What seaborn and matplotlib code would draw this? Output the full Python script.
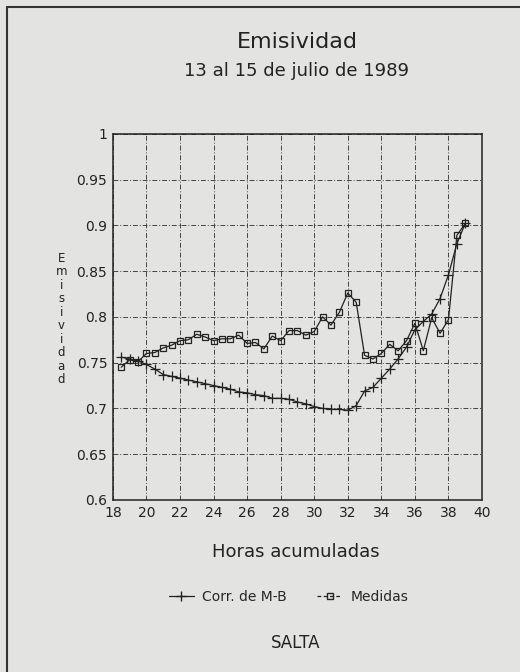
import numpy as np
import pandas as pd
import seaborn as sns
import matplotlib
matplotlib.use("Agg")
import matplotlib.pyplot as plt
from matplotlib.lines import Line2D

# hours (accumulated) and emissivity values
horas = [18.5, 19.0, 19.5, 20.0, 20.5, 21.0, 21.5, 22.0, 22.5, 23.0, 23.5,
         24.0, 24.5, 25.0, 25.5, 26.0, 26.5, 27.0, 27.5, 28.0, 28.5, 29.0,
         29.5, 30.0, 30.5, 31.0, 31.5, 32.0, 32.5, 33.0, 33.5, 34.0, 34.5,
         35.0, 35.5, 36.0, 36.5, 37.0, 37.5, 38.0, 38.5, 39.0]

corr_mb = [0.756, 0.754, 0.752, 0.748, 0.743, 0.737, 0.735, 0.733, 0.731, 0.729,
           0.727, 0.725, 0.723, 0.721, 0.718, 0.717, 0.715, 0.714, 0.711, 0.711,
           0.710, 0.707, 0.705, 0.702, 0.700, 0.699, 0.699, 0.698, 0.703, 0.719,
           0.723, 0.733, 0.743, 0.754, 0.767, 0.786, 0.795, 0.803, 0.820, 0.846,
           0.880, 0.902]

medidas = [0.745, 0.753, 0.751, 0.760, 0.761, 0.766, 0.769, 0.774, 0.775, 0.781,
           0.778, 0.774, 0.776, 0.776, 0.780, 0.771, 0.772, 0.765, 0.779, 0.774,
           0.785, 0.785, 0.780, 0.784, 0.800, 0.791, 0.805, 0.826, 0.816, 0.758,
           0.754, 0.760, 0.770, 0.763, 0.774, 0.793, 0.763, 0.799, 0.782, 0.797,
           0.889, 0.902]

x_ticks = [18, 20, 22, 24, 26, 28, 30, 32, 34, 36, 38, 40]
y_ticks = [0.6, 0.65, 0.7, 0.75, 0.8, 0.85, 0.9, 0.95, 1.0]
y_tick_labels = ["0.6", "0.65", "0.7", "0.75", "0.8", "0.85", "0.9", "0.95", "1"]

df = pd.DataFrame({"Horas": horas, "Corr. de M-B": corr_mb, "Medidas": medidas})

paper = "#e3e3e1"
sns.set_style("white")
plt.rcParams["font.family"] = ["DejaVu Sans"]

fig = plt.figure(figsize=(5.2, 6.72), dpi=100, facecolor=paper)
ax = fig.add_axes([0.217, 0.256, 0.71, 0.545])
ax.set_facecolor(paper)

sns.lineplot(data=df, x="Horas", y="Corr. de M-B", ax=ax, color="#222222",
             marker="+", markersize=7, mew=0.9, mec="#222222", linewidth=0.9)
sns.lineplot(data=df, x="Horas", y="Medidas", ax=ax, color="#222222",
             marker="s", markersize=5, mew=0.9, mec="#222222", mfc="none",
             linewidth=0.9)

ax.set_xlim(18, 40)
ax.set_ylim(0.6, 1.0)
ax.set_xticks(x_ticks)
ax.set_yticks(y_ticks)
ax.set_yticklabels(y_tick_labels)
ax.tick_params(length=0, pad=4, labelsize=10, colors="#222222")
ax.grid(True, color="#444444", linewidth=0.7, linestyle=(0, (5, 2, 1, 2)))
for s in ax.spines.values():
    s.set_color("#222222")
    s.set_linewidth(1.1)
ax.set_xlabel("")
ax.set_ylabel("")

fig.text(0.571, 0.937, "Emisividad", ha="center", va="center", fontsize=16, color="#222222")
fig.text(0.571, 0.895, "13 al 15 de julio de 1989", ha="center", va="center",
         fontsize=13, color="#222222")
fig.text(0.569, 0.178, "Horas acumuladas", ha="center", va="center", fontsize=13,
         color="#222222")
fig.text(0.118, 0.525, "\n".join("Emisividad"), ha="center", va="center", fontsize=8.5,
         linespacing=1.05, color="#222222")
fig.text(0.569, 0.043, "SALTA", ha="center", va="center", fontsize=12, color="#222222")

handles = [Line2D([], [], color="#222222", marker="+", markersize=7, linewidth=0.9),
           Line2D([], [], color="#222222", marker="s", markersize=5, mfc="none",
                  linewidth=0.9, linestyle=(0, (3, 2)))]
fig.legend(handles, ["Corr. de M-B", "Medidas"], loc="center",
           bbox_to_anchor=(0.555, 0.112), ncol=2, frameon=False, fontsize=10,
           handlelength=1.8, columnspacing=2.2, handletextpad=0.6)

# frame of the scanned page
fig.add_artist(Line2D([0.013, 0.013], [0.0, 0.99], color="#333333", linewidth=1.5))
fig.add_artist(Line2D([0.013, 1.0], [0.99, 0.99], color="#333333", linewidth=1.5))

fig.savefig("out.png", dpi=100, facecolor=paper)
